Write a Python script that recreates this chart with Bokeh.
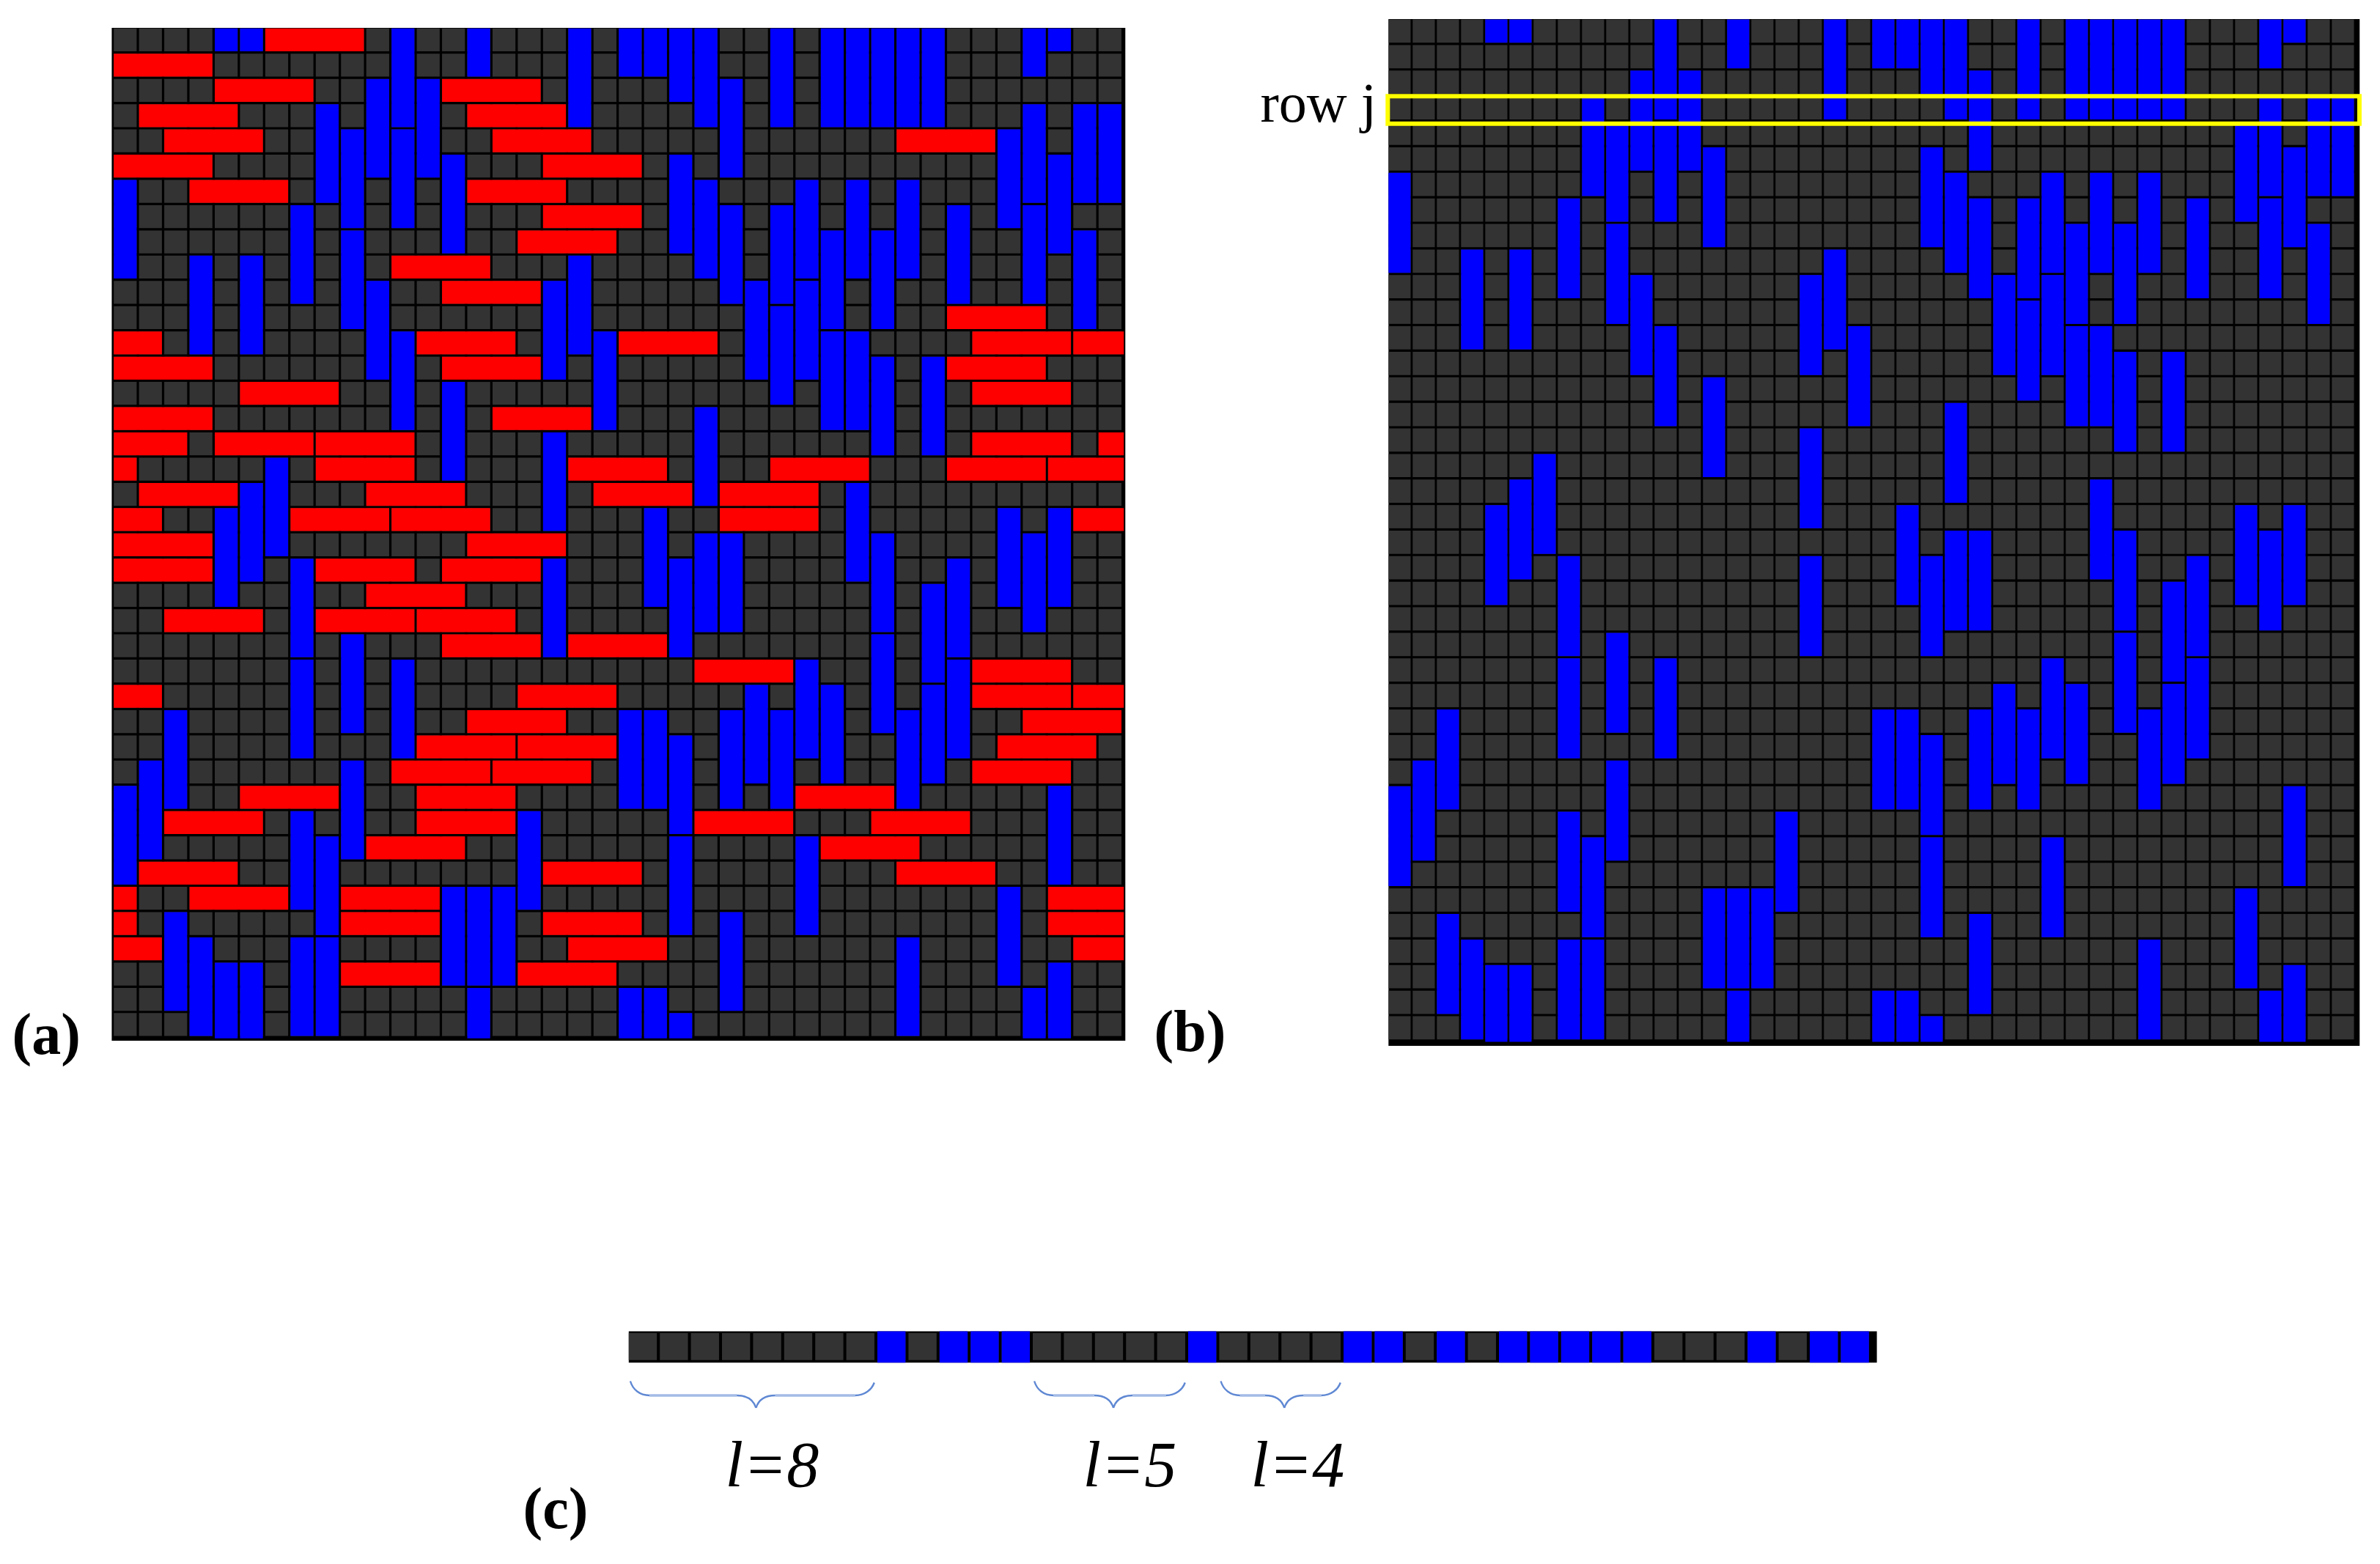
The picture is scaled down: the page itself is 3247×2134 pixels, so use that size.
import numpy as np
from bokeh.embed import file_html
from bokeh.models import ColumnDataSource, Label, Range1d
from bokeh.plotting import figure
from bokeh.resources import INLINE

GRID = 40
CAR = 4
ROW_J = 3

red_rows = [0, 1, 2, 2, 3, 3, 4, 4, 4, 5, 5, 6, 6, 7, 8, 9, 10, 11,
            12, 12, 12, 12, 13, 13, 13, 14, 14, 15, 15,
            16, 16, 16, 16, 17, 17, 17, 17, 17,
            18, 18, 18, 18, 19, 19, 19, 19, 20, 20,
            21, 21, 21, 22, 23, 23, 23, 24, 24, 25, 25,
            26, 26, 26, 27, 27, 28, 28, 28, 29, 29, 29,
            30, 30, 30, 31, 31, 31, 31, 32, 32, 33, 33, 33,
            34, 34, 34, 35, 35, 35, 36, 36, 37, 37]
red_cols = [6, 0, 4, 13, 1, 14, 2, 15, 31, 0, 17, 3, 14, 17, 16, 11, 13, 33,
            38, 12, 20, 34, 0, 13, 33, 5, 34, 0, 15,
            39, 4, 8, 34, 37, 8, 18, 26, 33,
            1, 10, 19, 24, 38, 7, 11, 24, 0, 14,
            0, 8, 13, 10, 2, 8, 12, 13, 18, 23, 34,
            38, 16, 34, 14, 36, 12, 16, 35, 11, 15, 34,
            5, 12, 27, 2, 12, 23, 30, 10, 28, 1, 17, 31,
            37, 3, 9, 37, 9, 17, 38, 18, 9, 16]

blue_cols = [0, 0, 1, 2, 2, 3, 3, 4, 4, 5, 5, 5, 6,
             7, 7, 7, 7, 7, 8, 8, 8, 9, 9, 9, 9, 10, 10,
             11, 11, 11, 11, 12, 13, 13, 13, 14, 14, 15, 16,
             17, 17, 17, 18, 18, 19, 20, 20, 21, 21, 21,
             22, 22, 22, 22, 22, 23, 23, 23, 23,
             24, 24, 24, 24, 24, 25, 25, 26, 26, 26, 26,
             27, 27, 27, 27, 28, 28, 28, 28, 29, 29, 29, 29,
             30, 30, 30, 30, 30, 31, 31, 31, 31, 32, 32, 32, 32,
             33, 33, 33, 35, 35, 35, 36, 36, 36, 36,
             37, 37, 37, 37, 38, 38, 39]
blue_rows = [6, 30, 29, 27, 35, 9, 36, 19, 37, 9, 18, 37, 17,
             7, 21, 25, 31, 36, 3, 32, 36, 4, 8, 24, 29, 2, 10,
             0, 4, 12, 25, 2, 5, 14, 34, 38, 34, 34, 31,
             10, 16, 21, 0, 9, 12, 38, 27, 38, 19, 27,
             39, 5, 21, 28, 32, 0, 6, 15, 20,
             2, 7, 20, 27, 35, 10, 26, 0, 7, 11, 27,
             6, 10, 25, 32, 0, 8, 12, 26, 0, 6, 12, 18,
             0, 8, 13, 20, 24, 0, 6, 27, 36, 0, 13, 22, 26,
             7, 21, 25, 4, 19, 34, 38, 3, 7, 20,
             37, 5, 19, 30, 3, 8, 3]

run_starts = [0, 13, 19]
run_lengths = [8, 5, 4]
panel_labels = ["(a)", "(b)", "(c)"]
row_label = "row j"

GREY, BLACK, RED, BLUE, YELLOW = "#333333", "#000000", "#ff0000", "#0000ff", "#ffff00"
BRACE_DARK, BRACE_LIGHT = "#5f88d3", "#a3bbe6"
SERIF = "Liberation Serif"

# the default scale of the figure is the picture pixel; each panel has its own grid scale
X0, X1, Y0, Y1 = 0, 3231, 0, 2118
p = figure(width=X1 - X0, height=Y1 - Y0, output_backend="svg", toolbar_location=None,
           x_range=Range1d(X0, X1), y_range=Range1d(Y1, Y0),
           x_axis_location=None, y_axis_location=None, min_border=0,
           outline_line_color=None, background_fill_color="white", border_fill_color="white")
p.grid.visible = False


def add_scale(name, ox, oy, px, py):
    p.extra_x_ranges[name] = Range1d((X0 - ox) / px, (X1 - ox) / px)
    p.extra_y_ranges[name] = Range1d((Y1 - oy) / py, (Y0 - oy) / py)


def boxes(name, left, right, top, bottom, color):
    p.quad(left=left, right=right, top=top, bottom=bottom, fill_color=color, line_color=None,
           x_range_name=name, y_range_name=name)


def cars(along, across, gap, gap_across):
    """Spans of cars that run along one axis and wrap around the lattice edge."""
    a0, a1, c0, c1 = [], [], [], []
    for s, c in zip(along, across):
        if s + CAR > GRID:
            a0 += [s, 0]
            a1 += [GRID, s + CAR - GRID - gap]
            c0 += [c, c]
            c1 += [c + 1 - gap_across, c + 1 - gap_across]
        else:
            a0.append(s)
            a1.append(s + CAR - gap)
            c0.append(c)
            c1.append(c + 1 - gap_across)
    return a0, a1, c0, c1


def lattice(name, gx, gy, frame, with_red):
    boxes(name, [frame[0]], [frame[1]], [frame[2]], [frame[3]], BLACK)
    cc, rr = np.meshgrid(np.arange(GRID), np.arange(GRID))
    cc, rr = cc.ravel(), rr.ravel()
    boxes(name, cc, cc + 1 - gx, rr, rr + 1 - gy, GREY)
    if with_red:
        l, r, t, b = cars(red_cols, red_rows, gx, gy)
        boxes(name, l, r, t, b, RED)
    t, b, l, r = cars(blue_rows, blue_cols, gy, gx)
    boxes(name, l, r, t, b, BLUE)


# panel (a)
add_scale("a", 154.7, 38.3, 34.45, 34.45)
lattice("a", 0.093, 0.093, (-0.08, 40.06, -0.02, 40.09), True)

# panel (b)
add_scale("b", 1893.8, 26.1, 33.0, 34.87)
lattice("b", 0.085, 0.09, (0, 40.15, -0.02, 40.16), False)
p.quad(left=[-0.03], right=[40.14], top=[ROW_J], bottom=[ROW_J + 1.08], fill_color=None,
       line_color=YELLOW, line_width=6, line_join="miter", x_range_name="b", y_range_name="b")

# panel (c): row j of the lattice, enlarged
add_scale("c", 857.3, 1816.0, 42.4, 42.7)
boxes("c", [0], [40.16], [0], [1], BLACK)
cols = np.arange(GRID)
boxes("c", cols, cols + 0.905, [0.055] * GRID, [0.92] * GRID, GREY)
occupied = [c for c, r in zip(blue_cols, blue_rows) if (ROW_J - r) % GRID < CAR]
occupied = np.array(sorted(occupied))
boxes("c", occupied, occupied + 0.905, [0] * len(occupied), [1] * len(occupied), BLUE)

# braces under the runs of empty cells (x on the strip's scale, y on the picture)
Y_END, Y_FLAT, Y_TIP = 1884.0, 1903.5, 1920.5
W = 0.62
for s, n in zip(run_starts, run_lengths):
    a, b = s + 0.05, s + n - 0.1
    t = (a + b) / 2 + 0.12
    src = ColumnDataSource(dict(
        x0=[a, b, t - W, t + W], y0=[Y_END, Y_END + 2, Y_FLAT, Y_FLAT],
        x1=[a + W, b - W, t, t], y1=[Y_FLAT, Y_FLAT, Y_TIP, Y_TIP],
        cx0=[a + 0.08, b - 0.08, t - W * 0.45, t + W * 0.45],
        cy0=[Y_FLAT - 8, Y_FLAT - 8, Y_FLAT, Y_FLAT],
        cx1=[a + 0.3, b - 0.3, t - 0.08, t + 0.08],
        cy1=[Y_FLAT, Y_FLAT, Y_FLAT + 6, Y_FLAT + 6]))
    p.segment(x0=[a + W, t + W], y0=[Y_FLAT] * 2, x1=[t - W, b - W], y1=[Y_FLAT] * 2,
              line_color=BRACE_LIGHT, line_width=3.5, x_range_name="c")
    p.bezier(x0="x0", y0="y0", x1="x1", y1="y1", cx0="cx0", cy0="cy0", cx1="cx1", cy1="cy1",
             source=src, line_color=BRACE_DARK, line_width=2.4, x_range_name="c")


def text(s, x, y, size, style="normal"):
    # Label's alphabetic anchor sits about 0.38 em above the drawn baseline
    p.add_layout(Label(x=x, y=y - 0.38 * size, text=s, text_font=SERIF,
                       text_font_size=f"{size}px", text_font_style=style, text_color="black",
                       text_align="left", text_baseline="alphabetic"))


for s, x, y in zip(panel_labels, [16, 1574, 713], [1441, 1437, 2088]):
    text(s, x, y, 80, "bold")
text(row_label, 1719, 168, 76)
for n, x in zip(run_lengths, [989, 1477, 1706]):
    text(f"l={n}", x, 2031, 88, "italic")

open("out.html", "w").write(file_html(p, INLINE))
